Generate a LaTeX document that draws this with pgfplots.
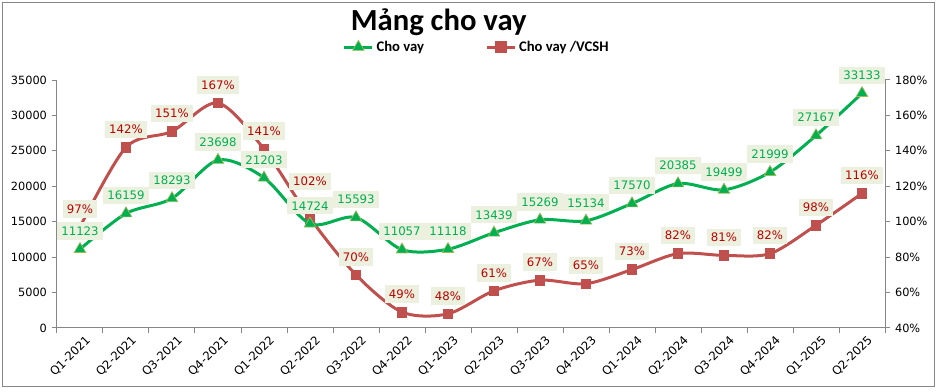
\documentclass[border=0pt]{standalone}
\usepackage{fontspec}
\setmainfont{Carlito}
\newfontfamily\dv{DejaVu Sans}
\usepackage{pgfplots}
\usepackage{pgfplotstable}
\pgfplotsset{compat=1.18}
\definecolor{cgreen}{HTML}{00B050}
\definecolor{cgreenedge}{HTML}{9BBB59}
\definecolor{cred}{HTML}{C0504D}
\definecolor{credtext}{HTML}{C00000}
\definecolor{lblfill}{HTML}{EBF1DE}
\definecolor{axgray}{HTML}{868686}

% rs = extra upward shift (pt) of the ratio label
\pgfplotstableread{
x loan ratio rs
0 11123 97 0
1 16159 142 0
2 18293 151 0
3 23698 167 0
4 21203 141 0
5 14724 102 14
6 15593 70 0
7 11057 49 0
8 11118 48 0
9 13439 61 0
10 15269 67 0
11 15134 65 0
12 17570 73 0
13 20385 82 0
14 19499 81 0
15 21999 82 0
16 27167 98 0
17 33133 116 0
}\data

\tikzset{lbl/.style={font=\dv\fontsize{8.8}{10}\selectfont, fill=lblfill, inner xsep=3pt, inner ysep=3.2pt, anchor=center, yshift=13.5pt}}
\pgfplotsset{
  base/.style={
    scale only axis, width=621pt, height=186pt,
    xmin=-0.5, xmax=17.5, clip=false,
    axis line style={axgray, line width=0.75pt},
    tick style={axgray, line width=0.75pt},
    tick align=outside, major tick length=4pt,
    /pgf/number format/assume math mode=true,
    /pgf/number format/1000 sep={},
    tick label style={font=\dv\fontsize{8.5}{10}\selectfont, text=black},
    scaled y ticks=false,
  },
}

\begin{document}
\begin{tikzpicture}
\useasboundingbox (-42.75pt,-48pt) rectangle (661.5pt,246pt);
\draw[axgray, line width=0.75pt] (-40.5pt,-44.25pt) rectangle (657.75pt,243.75pt);
% right axis: ratio
\begin{axis}[base,
  axis y line*=right, axis x line=none,
  ymin=40, ymax=180, ytick={40,60,...,180},
  yticklabel={\pgfmathprintnumber{\tick}\%},
]
\addplot[cred, line width=2.25pt, smooth, tension=0.5,
  mark=square*, mark size=3.6pt,
  mark options={solid, fill=cred, draw=cred, line width=0.5pt},
  visualization depends on={\thisrow{rs} \as \rs},
  nodes near coords={\pgfmathprintnumber{\pgfplotspointmeta}\%},
  every node near coord/.append style={lbl, text=credtext, yshift=\rs pt},
  point meta=explicit]
  table[x=x, y=ratio, meta=ratio] {\data};
\end{axis}
% left axis: loans
\begin{axis}[base,
  axis y line*=left, axis x line*=bottom,
  ymin=0, ymax=35000, ytick={0,5000,...,35000},
  xtick={-0.5,0.5,...,17.5},
  x tick label as interval,
  xticklabels={Q1-2021,Q2-2021,Q3-2021,Q4-2021,Q1-2022,Q2-2022,Q3-2022,Q4-2022,Q1-2023,Q2-2023,Q3-2023,Q4-2023,Q1-2024,Q2-2024,Q3-2024,Q4-2024,Q1-2025,Q2-2025},
  xticklabel style={rotate=45, anchor=north east, inner sep=1pt, xshift=3pt, yshift=-2pt, font=\dv\fontsize{8.8}{10}\selectfont},
  legend columns=2,
  legend style={draw=none, fill=none, at={(rel axis cs:0.345,1.133)}, anchor=west,
    font=\bfseries\fontsize{11}{12}\selectfont, inner sep=0pt,
    /tikz/every even column/.append style={column sep=44pt}},
  legend image code/.code={\draw[mark repeat=2, mark phase=2, #1] plot coordinates {(0pt,0pt) (10.5pt,0pt) (21pt,0pt)};},
]
\addplot[cgreen, line width=2.25pt, smooth, tension=0.5,
  mark=triangle*, mark size=5pt,
  mark options={solid, fill=cgreen, draw=cgreenedge, line width=0.5pt},
  nodes near coords={\pgfmathprintnumber[fixed,precision=0]{\pgfplotspointmeta}},
  every node near coord/.append style={lbl, text=cgreen},
  point meta=explicit]
  table[x=x, y=loan, meta=loan] {\data};
\addlegendentry{Cho vay}
\addlegendimage{cred, line width=2.25pt, mark=square*, mark size=3.6pt, mark options={solid, fill=cred, draw=cred}}
\addlegendentry{Cho vay /VCSH}
\node[font=\bfseries\fontsize{23}{27}\selectfont] at (rel axis cs:0.461,1.232) {Mảng cho vay};
\end{axis}
\end{tikzpicture}
\end{document}
